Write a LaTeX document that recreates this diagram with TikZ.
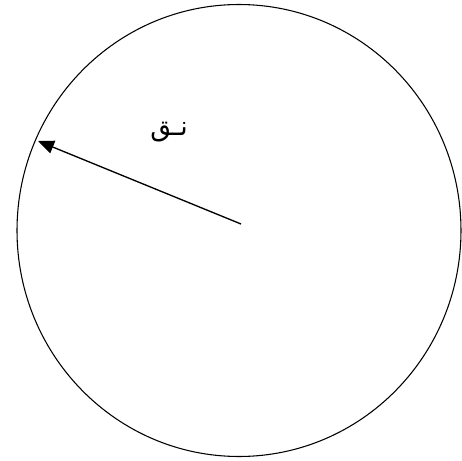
\documentclass[tikz,border=0pt]{standalone}
\usepackage{fontspec}
\newfontfamily\arabicfont[Script=Arabic]{DejaVu Sans}
\TeXXeTstate=1
\usetikzlibrary{arrows.meta, shapes.geometric}

\begin{document}
\begin{tikzpicture}[
    x=0.75pt, y=-0.75pt,
    disc/.style={draw, line width=0.8pt, ellipse, inner sep=0pt,
                 minimum width=333pt, minimum height=339pt},
    radius line/.style={-{Triangle[length=12pt,width=10pt]}, line width=1pt},
    lbl/.style={font=\arabicfont\fontsize{20}{24}\selectfont, inner sep=0pt},
]
\useasboundingbox (0,0) rectangle (462,461);
\node[disc] (disc) at (239,230.5) {};
\coordinate (ctr) at (241,224);
\coordinate (tip) at (38,141);
\draw[radius line] (ctr) -- (tip);
\node[lbl] (nq) at (169,132) {\beginR نـق\endR};
\end{tikzpicture}
\end{document}
